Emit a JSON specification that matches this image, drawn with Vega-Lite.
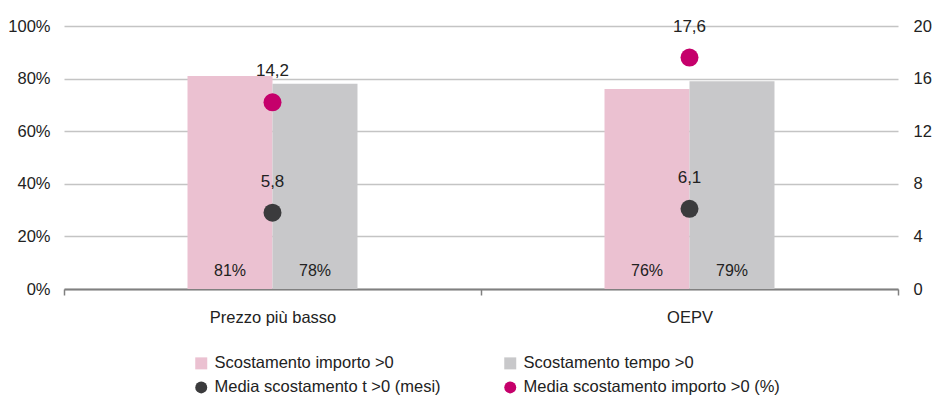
{
  "$schema": "https://vega.github.io/schema/vega-lite/v6.json",
  "width": 834,
  "height": 263,
  "autosize": {"type": "none"},
  "padding": {"left": 64, "top": 26, "right": 36, "bottom": 111},
  "config": {
    "font": "Liberation Sans",
    "view": {"stroke": null},
    "locale": {"number": {"decimal": ",", "thousands": ".", "grouping": [3], "currency": ["€", ""]}},
    "axis": {"labelFont": "Liberation Sans", "labelFontSize": 16.5, "labelColor": "#222222"},
    "legend": {"labelFont": "Liberation Sans", "labelFontSize": 16.5, "labelColor": "#222222", "labelLimit": 400}
  },
  "datasets": {
    "bars": [
      {"categoria": "Prezzo più basso", "serie": "Scostamento importo >0", "quota": 0.81},
      {"categoria": "Prezzo più basso", "serie": "Scostamento tempo >0", "quota": 0.78},
      {"categoria": "OEPV", "serie": "Scostamento importo >0", "quota": 0.76},
      {"categoria": "OEPV", "serie": "Scostamento tempo >0", "quota": 0.79}
    ],
    "points": [
      {"categoria": "Prezzo più basso", "serie": "Media scostamento t >0 (mesi)", "valore": 5.8},
      {"categoria": "Prezzo più basso", "serie": "Media scostamento importo >0 (%)", "valore": 14.2},
      {"categoria": "OEPV", "serie": "Media scostamento t >0 (mesi)", "valore": 6.1},
      {"categoria": "OEPV", "serie": "Media scostamento importo >0 (%)", "valore": 17.6}
    ]
  },
  "layer": [
    {
      "data": {"name": "bars"},
      "encoding": {
        "x": {
          "field": "categoria", "type": "nominal", "sort": ["Prezzo più basso", "OEPV"],
          "scale": {"paddingInner": 0, "paddingOuter": 0},
          "axis": {
            "title": null, "labelAngle": 0, "domainColor": "#808080", "domainWidth": 2,
            "tickBand": "extent", "tickColor": "#808080", "tickWidth": 1.5, "tickSize": 6,
            "labelPadding": 14, "grid": false
          }
        },
        "xOffset": {
          "field": "serie", "type": "nominal",
          "scale": {"domain": ["_sx", "Scostamento importo >0", "Scostamento tempo >0", "_dx"], "paddingInner": 0, "paddingOuter": 0.453}
        },
        "y": {
          "field": "quota", "type": "quantitative",
          "scale": {"domain": [0, 1]},
          "axis": {
            "title": null, "format": ".0%", "values": [0, 0.2, 0.4, 0.6, 0.8, 1],
            "domain": false, "ticks": false, "labelPadding": 14,
            "grid": true, "gridColor": "#c4c4c4", "gridWidth": 1.5
          }
        }
      },
      "layer": [
        {
          "mark": {"type": "bar"},
          "encoding": {
            "color": {
              "field": "serie", "type": "nominal",
              "scale": {"domain": ["Scostamento importo >0", "Scostamento tempo >0"], "range": ["#EBC1D1", "#C8C8CA"]},
              "legend": {
                "title": null, "orient": "none", "legendX": 129, "legendY": 329,
                "direction": "horizontal", "columns": 2, "columnPadding": 108,
                "symbolType": "square", "symbolSize": 144, "labelOffset": 5, "padding": 0,
                "symbolStrokeWidth": 0
              }
            }
          }
        },
        {
          "mark": {"type": "text", "dy": -18, "fontSize": 16, "color": "#222222"},
          "encoding": {
            "y": {"datum": 0},
            "text": {"field": "quota", "type": "quantitative", "format": ".0%"}
          }
        }
      ]
    },
    {
      "data": {"name": "points"},
      "encoding": {
        "x": {"field": "categoria", "type": "nominal", "sort": ["Prezzo più basso", "OEPV"]},
        "y": {
          "field": "valore", "type": "quantitative",
          "scale": {"domain": [0, 20]},
          "axis": {
            "title": null, "orient": "right", "values": [0, 4, 8, 12, 16, 20], "format": "d",
            "domain": false, "ticks": false, "grid": false, "labelPadding": 15
          }
        }
      },
      "layer": [
        {
          "mark": {"type": "point", "filled": true, "shape": "circle", "size": 324, "opacity": 1},
          "encoding": {
            "color": {
              "field": "serie", "type": "nominal",
              "scale": {"domain": ["Media scostamento t >0 (mesi)", "Media scostamento importo >0 (%)"], "range": ["#3B3B3D", "#C5006B"]},
              "legend": {
                "title": null, "orient": "none", "legendX": 129, "legendY": 353,
                "direction": "horizontal", "columns": 2, "columnPadding": 61,
                "symbolType": "circle", "symbolSize": 144, "labelOffset": 5, "padding": 0,
                "symbolStrokeWidth": 0
              }
            }
          }
        },
        {
          "mark": {"type": "text", "dy": -31, "fontSize": 17, "color": "#222222"},
          "encoding": {
            "text": {"field": "valore", "type": "quantitative", "format": ".1f"}
          }
        }
      ]
    }
  ],
  "resolve": {"scale": {"y": "independent", "color": "independent"}}
}
